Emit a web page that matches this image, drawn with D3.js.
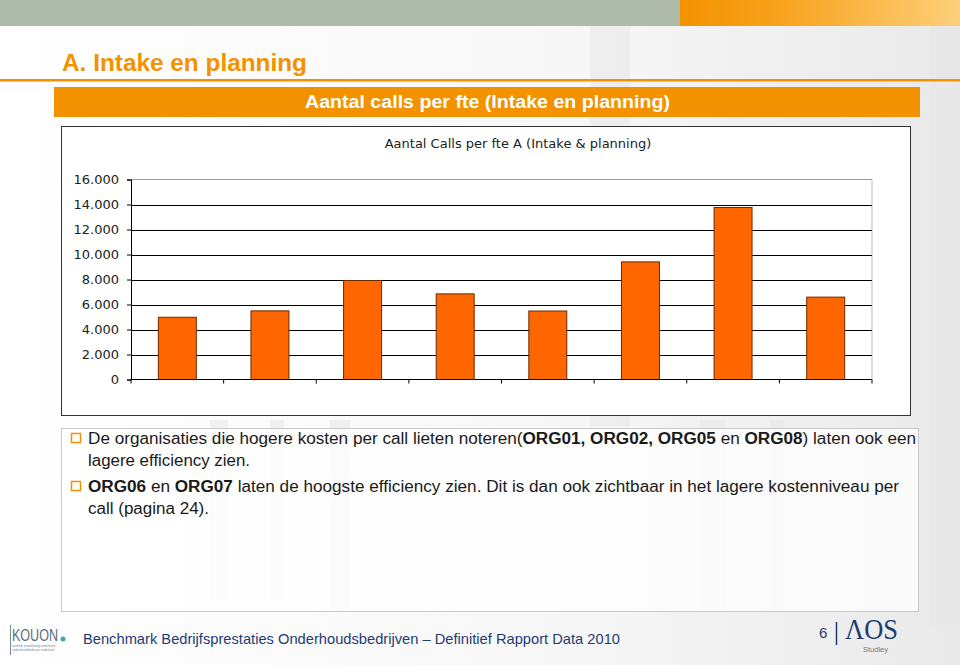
<!DOCTYPE html>
<html><head><meta charset="utf-8">
<script src="https://cdn.jsdelivr.net/npm/d3@7"></script>
<style>
html,body{margin:0;padding:0;background:#fff;}
svg{display:block;}
</style></head>
<body>
<script>
const categories = ["ORG01","ORG02","ORG03","ORG04","ORG05","ORG06","ORG07","ORG08"];
const values = [4980, 5490, 7920, 6850, 5480, 9410, 13760, 6590];
const yTicks = [0,2000,4000,6000,8000,10000,12000,14000,16000];
const yTickLabels = ["0","2.000","4.000","6.000","8.000","10.000","12.000","14.000","16.000"];
const chartTitle = "Aantal Calls per fte A (Intake & planning)";
const pageTitle = "A. Intake en planning";
const bannerTitle = "Aantal calls per fte (Intake en planning)";
const footerText = "Benchmark Bedrijfsprestaties Onderhoudsbedrijven \u2013 Definitief Rapport Data 2010";

const W = 960, H = 665;
const svg = d3.select("body").append("svg").attr("width", W).attr("height", H);
const defs = svg.append("defs");
const g1 = defs.append("linearGradient").attr("id","og").attr("x1","0").attr("x2","1");
g1.append("stop").attr("offset","0").attr("stop-color","#f39200");
g1.append("stop").attr("offset","0.35").attr("stop-color","#f7a21c");
g1.append("stop").attr("offset","1").attr("stop-color","#fdd07a");
const g2 = defs.append("linearGradient").attr("id","bg").attr("x1","0").attr("x2","1");
g2.append("stop").attr("offset","0").attr("stop-color","#ffffff");
g2.append("stop").attr("offset","0.6").attr("stop-color","#f7f7f7");
g2.append("stop").attr("offset","1").attr("stop-color","#e9e9e9");

// background
svg.append("rect").attr("width",W).attr("height",H).attr("fill","url(#bg)");
const shapes = [[590,26,40,400],[930,26,30,600],[210,420,18,180],[270,420,14,180],[330,420,20,190],[700,420,25,190],[770,420,14,190]];
svg.selectAll("rect.ph").data(shapes).join("rect").attr("class","ph")
  .attr("x",d=>d[0]).attr("y",d=>d[1]).attr("width",d=>d[2]).attr("height",d=>d[3])
  .attr("fill","#e6e6e6").attr("opacity",0.5);

// top band
svg.append("rect").attr("x",0).attr("y",0).attr("width",680).attr("height",26).attr("fill","#aebaaa");
svg.append("rect").attr("x",680).attr("y",0).attr("width",280).attr("height",26).attr("fill","url(#og)");

// page title
svg.append("text").attr("x",62).attr("y",71).text(pageTitle)
  .attr("font-family","'Liberation Sans',Arial,sans-serif")
  .attr("font-weight","bold").attr("font-size",23).attr("fill","#f39200")
  .attr("textLength",245).attr("lengthAdjust","spacingAndGlyphs");
svg.append("rect").attr("x",0).attr("y",79).attr("width",W).attr("height",2).attr("fill","#f39200");
svg.append("rect").attr("x",0).attr("y",81).attr("width",W).attr("height",1).attr("fill","#f8c27a");

// banner
svg.append("rect").attr("x",54).attr("y",87).attr("width",866).attr("height",30).attr("fill","#f39200");
svg.append("text").attr("x",305).attr("y",108).text(bannerTitle)
  .attr("font-family","'Liberation Sans',Arial,sans-serif")
  .attr("font-weight","bold").attr("font-size",18).attr("fill","#fff")
  .attr("textLength",365).attr("lengthAdjust","spacingAndGlyphs");

// chart box
svg.append("rect").attr("x",61.5).attr("y",126.5).attr("width",849).attr("height",289)
  .attr("fill","#fff").attr("stroke","#333").attr("stroke-width",1);
svg.append("text").attr("x",518).attr("y",148).attr("text-anchor","middle").text(chartTitle)
  .attr("font-family","'DejaVu Sans',Verdana,sans-serif").attr("font-size",13).attr("fill","#222");

const x = d3.scaleBand().domain(categories).range([131,872]).paddingInner(0.59).paddingOuter(0.295);
const y = d3.scaleLinear().domain([0,16000]).range([379.5,179.5]);

const plot = svg.append("g");
plot.append("line").attr("x1",131).attr("x2",872).attr("y1",y(16000)).attr("y2",y(16000)).attr("stroke","#999");
plot.append("line").attr("x1",872).attr("x2",872).attr("y1",y(16000)).attr("y2",y(0)).attr("stroke","#bbb");
plot.selectAll("line.grid").data(yTicks.filter(t=>t>0 && t<16000)).join("line").attr("class","grid")
  .attr("x1",131).attr("x2",872).attr("y1",d=>Math.round(y(d))+0.5).attr("y2",d=>Math.round(y(d))+0.5)
  .attr("stroke","#000").attr("stroke-width",1);

plot.selectAll("rect.bar").data(values).join("rect").attr("class","bar")
  .attr("x",(d,i)=>x(categories[i])).attr("width",x.bandwidth())
  .attr("y",d=>y(d)).attr("height",d=>y(0)-y(d))
  .attr("fill","#ff6600").attr("stroke","#6b2a00").attr("stroke-width",1);

const yAxis = d3.axisLeft(y).tickValues(yTicks).tickFormat((d,i)=>yTickLabels[i]).tickSize(4).tickPadding(8);
const ya = svg.append("g").attr("transform","translate(131,0)").call(yAxis);
ya.select(".domain").attr("stroke","#000");
ya.selectAll(".tick line").attr("stroke","#000");
ya.selectAll("text").attr("font-family","'DejaVu Sans',Verdana,sans-serif").attr("font-size",13).attr("fill","#222");

const xa = svg.append("g").attr("transform",`translate(0,${y(0)})`);
xa.append("line").attr("x1",131).attr("x2",872).attr("y1",0).attr("y2",0).attr("stroke","#000");
const bounds = categories.map(c=>x(c)-x.step()*x.paddingInner()/2).concat([872]);
xa.selectAll("line.xt").data(bounds).join("line").attr("class","xt")
  .attr("x1",d=>d).attr("x2",d=>d).attr("y1",0).attr("y2",4).attr("stroke","#000");

// text box
svg.append("rect").attr("x",61.5).attr("y",428.5).attr("width",857).attr("height",183)
  .attr("fill","#fff").attr("fill-opacity",0.75).attr("stroke","#c8c8c8");

const font = "'Liberation Sans',Arial,sans-serif";
const lines = [
  {y:444, len:828, bullet:true, parts:[["De organisaties die hogere kosten per call lieten noteren(",0],["ORG01, ORG02, ORG05",1],[" en ",0],["ORG08",1],[") laten ook een",0]]},
  {y:466, len:162, parts:[["lagere efficiency zien.",0]]},
  {y:492, len:811, bullet:true, parts:[["ORG06",1],[" en ",0],["ORG07",1],[" laten de hoogste efficiency zien. Dit is dan ook zichtbaar in het lagere kostenniveau per",0]]},
  {y:514, len:121, parts:[["call (pagina 24).",0]]}
];
lines.forEach(l=>{
  if(l.bullet){
    svg.append("rect").attr("x",71.5).attr("y",l.y-10.5).attr("width",9).attr("height",9)
      .attr("fill","#fff").attr("stroke","#f39200").attr("stroke-width",1.5);
  }
  const t = svg.append("text").attr("x",88).attr("y",l.y).attr("font-family",font).attr("font-size",16).attr("fill","#1a1a1a")
    .attr("textLength",l.len).attr("lengthAdjust","spacingAndGlyphs");
  l.parts.forEach(p=>t.append("tspan").text(p[0]).attr("font-weight",p[1]?"bold":"normal"));
});

// footer
const kg = svg.append("g").attr("transform","translate(10,625)");
kg.append("rect").attr("x",0).attr("y",0).attr("width",1).attr("height",30).attr("fill","#7a8a99");
kg.append("text").attr("x",2).attr("y",16).text("KOUON").attr("font-family","'Liberation Sans',sans-serif")
  .attr("font-size",17).attr("fill","#5a6c80").attr("textLength",46).attr("lengthAdjust","spacingAndGlyphs");
kg.append("circle").attr("cx",53).attr("cy",14).attr("r",2.5).attr("fill","#4a9fb0");
kg.append("text").attr("x",2).attr("y",22).text("landelijk ontwikkeling onderhoud").attr("font-family",font).attr("font-size",3).attr("fill","#7a8a99");
kg.append("text").attr("x",2).attr("y",26).text("onderhoudsbedrijven nederland").attr("font-family",font).attr("font-size",3).attr("fill","#7a8a99");

svg.append("text").attr("x",83).attr("y",644).text(footerText).attr("font-family",font).attr("font-size",15).attr("fill","#1f3b73")
  .attr("textLength",537).attr("lengthAdjust","spacingAndGlyphs");
svg.append("text").attr("x",819).attr("y",638).text("6").attr("font-family",font).attr("font-size",15).attr("fill","#1f3b73");
svg.append("line").attr("x1",836.5).attr("x2",836.5).attr("y1",622).attr("y2",645).attr("stroke","#1f3b73").attr("stroke-width",1.5);
svg.append("text").attr("x",845).attr("y",639).text("\u039BOS").attr("font-family","'Liberation Serif','DejaVu Serif',serif").attr("font-size",29).attr("fill","#1f3b73")
  .attr("textLength",53).attr("lengthAdjust","spacingAndGlyphs");
svg.append("text").attr("x",863).attr("y",652).text("Studley").attr("font-family",font).attr("font-size",7.5).attr("fill","#6d7b8c");
</script>
</body></html>
